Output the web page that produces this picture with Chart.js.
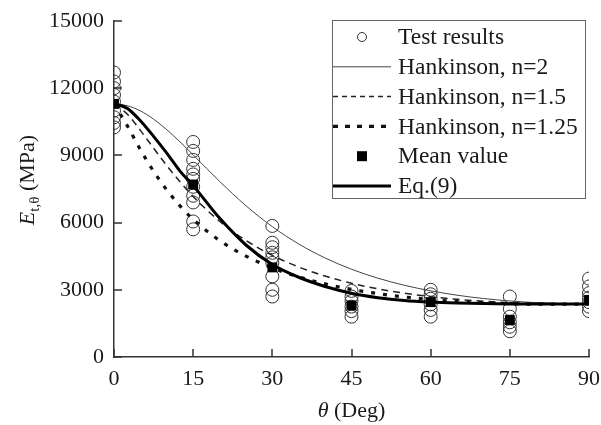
<!DOCTYPE html>
<html><head><meta charset="utf-8">
<style>html,body{margin:0;padding:0;background:#fff}#wrap{width:601px;height:425px;position:relative}</style>
<script src="https://cdn.jsdelivr.net/npm/chart.js@4/dist/chart.umd.min.js"></script>
</head><body><div id="wrap"><canvas id="c"></canvas></div>
<script>
// ---- data ----
const angleTicks = [0, 15, 30, 45, 60, 75, 90];
const yTicks = [0, 3000, 6000, 9000, 12000, 15000];
const testAngles = [0, 15, 30, 45, 60, 75, 90];
const testValues = [
  [12700, 12300, 12000, 11700, 11400, 11000, 10700, 10450, 10250],
  [9600, 9200, 8800, 8400, 8150, 7950, 7600, 7200, 6900, 6050, 5700],
  [5850, 5100, 4900, 4650, 4450, 4200, 3600, 3000, 2700],
  [2950, 2700, 2500, 2250, 2050, 1800],
  [3000, 2800, 2600, 2350, 2100, 1800],
  [2700, 2150, 1800, 1550, 1350, 1150],
  [3500, 3150, 2850, 2650, 2450, 2250, 2050]
];
const meanValues = [11300, 7700, 4000, 2300, 2450, 1650, 2550];
const curveAngles = [0, 2.5, 5, 7.5, 10, 12.5, 15, 20, 25, 30, 35, 40, 45, 50, 55, 60, 65, 70, 75, 80, 85, 90];
const hank2   = [11300, 11219, 10986, 10618, 10147, 9605, 9023, 7843, 6754, 5819, 5046, 4420, 3918, 3519, 3203, 2954, 2759, 2611, 2502, 2428, 2384, 2370];
const hank15  = [11300, 10845, 10116, 9323, 8546, 7822, 7165, 6060, 5201, 4535, 4018, 3613, 3295, 3044, 2847, 2693, 2575, 2487, 2426, 2388, 2371, 2370];
const hank125 = [11300, 10330, 9255, 8288, 7456, 6749, 6149, 5202, 4504, 3979, 3577, 3265, 3021, 2830, 2681, 2566, 2480, 2418, 2379, 2359, 2358, 2370];
const eq9     = [11300, 11100, 10550, 9850, 9100, 8300, 7650, 6200, 5000, 4130, 3560, 3150, 2850, 2650, 2520, 2450, 2410, 2385, 2370, 2365, 2365, 2365];
const seriesNames = ['Test results', 'Hankinson, n=2', 'Hankinson, n=1.5', 'Hankinson, n=1.25', 'Mean value', 'Eq.(9)'];

// ---- build ----
const testPoints = [];
testAngles.forEach((a, i) => testValues[i].forEach(v => testPoints.push({x: a, y: v})));
const meanPoints = testAngles.map((a, i) => ({x: a, y: meanValues[i]}));
const curve = arr => curveAngles.map((a, i) => ({x: a, y: arr[i]}));

const SERIF = '"Liberation Serif", "Times New Roman", serif';
const INK = '#1a1a1a';

const datasets = [
  {label: seriesNames[0], data: testPoints, showLine: false, pointStyle: 'circle', pointRadius: 6.5,
   pointBorderColor: '#333', pointBackgroundColor: 'rgba(0,0,0,0)', pointBorderWidth: 1, order: 6},
  {label: seriesNames[1], data: curve(hank2), showLine: true, pointRadius: 0, borderColor: '#444',
   borderWidth: 1, cubicInterpolationMode: 'monotone', order: 5},
  {label: seriesNames[2], data: curve(hank15), showLine: true, pointRadius: 0, borderColor: '#222',
   borderWidth: 1.5, borderDash: [7, 5], cubicInterpolationMode: 'monotone', order: 4},
  {label: seriesNames[3], data: curve(hank125), showLine: true, pointRadius: 0, borderColor: '#111',
   borderWidth: 3.2, borderDash: [4, 8], cubicInterpolationMode: 'monotone', order: 3},
  {label: seriesNames[4], data: meanPoints, showLine: false, pointStyle: 'rect', pointRadius: 7,
   pointBorderColor: '#000', pointBackgroundColor: '#000', pointBorderWidth: 0, order: 1},
  {label: seriesNames[5], data: curve(eq9), showLine: true, pointRadius: 0, borderColor: '#000',
   borderWidth: 3, cubicInterpolationMode: 'monotone', order: 2}
];

const decor = {
  id: 'decor',
  afterDraw(chart) {
    const ctx = chart.ctx, xs = chart.scales.x, ys = chart.scales.y, ca = chart.chartArea;
    ctx.save();
    // inward ticks
    ctx.strokeStyle = '#333'; ctx.lineWidth = 1.5;
    ctx.beginPath();
    angleTicks.forEach(t => { const px = Math.round(xs.getPixelForValue(t)); ctx.moveTo(px, ca.bottom); ctx.lineTo(px, ca.bottom - 8); });
    yTicks.forEach(t => { const py = Math.round(ys.getPixelForValue(t)); ctx.moveTo(ca.left, py); ctx.lineTo(ca.left + 8, py); });
    ctx.stroke();

    // x title
    ctx.fillStyle = INK; ctx.textBaseline = 'alphabetic';
    const cx = (ca.left + ca.right) / 2;
    ctx.font = 'italic 22px ' + SERIF;
    const w1 = ctx.measureText('\u03b8').width;
    ctx.font = '22px ' + SERIF;
    const w2 = ctx.measureText(' (Deg)').width;
    let x0 = cx - (w1 + w2) / 2;
    ctx.font = 'italic 22px ' + SERIF; ctx.textAlign = 'left';
    ctx.fillText('\u03b8', x0, 417);
    ctx.font = '22px ' + SERIF;
    ctx.fillText(' (Deg)', x0 + w1, 417);

    // y title (rotated)
    ctx.save();
    ctx.translate(34, 180);
    ctx.rotate(-Math.PI / 2);
    ctx.font = 'italic 22px ' + SERIF;
    const e1 = ctx.measureText('E').width;
    ctx.font = '15px ' + SERIF;
    const e2 = ctx.measureText('t,\u03b8').width;
    ctx.font = '22px ' + SERIF;
    const e3 = ctx.measureText(' (MPa)').width;
    let sx = -(e1 + e2 + e3) / 2;
    ctx.font = 'italic 22px ' + SERIF; ctx.fillText('E', sx, 0);
    ctx.font = '15px ' + SERIF; ctx.fillText('t,\u03b8', sx + e1, 5);
    ctx.font = '22px ' + SERIF; ctx.fillText(' (MPa)', sx + e1 + e2, 0);
    ctx.restore();

    // legend
    const L = 332, T = 20, R = 585, B = 198;
    ctx.fillStyle = '#fff'; ctx.fillRect(L, T, R - L, B - T);
    ctx.strokeStyle = '#666'; ctx.lineWidth = 1; ctx.setLineDash([]);
    ctx.strokeRect(L + 0.5, T + 0.5, R - L, B - T);
    const rowY = i => 37 + i * 29.8;
    chart.data.datasets.forEach((ds, i) => {
      const y = rowY(i);
      ctx.save();
      if (ds.showLine) {
        ctx.strokeStyle = ds.borderColor; ctx.lineWidth = ds.borderWidth;
        const dash = ds.borderDash ? (i === 2 ? [5, 4] : [5, 7]) : [];
        ctx.setLineDash(dash);
        ctx.beginPath(); ctx.moveTo(L + 1, y); ctx.lineTo(391, y); ctx.stroke();
      } else if (ds.pointStyle === 'circle') {
        ctx.strokeStyle = '#333'; ctx.lineWidth = 1;
        ctx.beginPath(); ctx.arc(362, y, 4.5, 0, Math.PI * 2); ctx.stroke();
      } else {
        ctx.fillStyle = '#000'; ctx.fillRect(357, y - 5, 10, 10);
      }
      ctx.restore();
      ctx.fillStyle = INK; ctx.font = '23.5px ' + SERIF; ctx.textAlign = 'left'; ctx.textBaseline = 'middle';
      ctx.fillText(ds.label, 398, y + 1);
    });
    ctx.restore();
  }
};

new Chart(document.getElementById('c'), {
  type: 'scatter',
  data: {datasets},
  options: {
    responsive: true, maintainAspectRatio: false, animation: false,
    layout: {padding: {top: 21, right: 12, left: 0, bottom: 0}},
    plugins: {legend: {display: false}, tooltip: {enabled: false}},
    scales: {
      x: {
        type: 'linear', min: 0, max: 90,
        afterBuildTicks: s => { s.ticks = angleTicks.map(v => ({value: v})); },
        afterFit: s => { s.height = 68; s.paddingLeft = 0; s.paddingRight = 0; },
        grid: {display: true, drawOnChartArea: false, drawTicks: false},
        border: {display: true, color: '#333', width: 1.5},
        ticks: {padding: 9, color: INK, font: {family: SERIF, size: 22}, maxRotation: 0}
      },
      y: {
        type: 'linear', min: 0, max: 15000,
        afterBuildTicks: s => { s.ticks = yTicks.map(v => ({value: v})); },
        afterFit: s => { s.width = 114; s.paddingTop = 0; s.paddingBottom = 0; },
        grid: {display: true, drawOnChartArea: false, drawTicks: false},
        border: {display: true, color: '#333', width: 1.5},
        ticks: {padding: 10, color: INK, font: {family: SERIF, size: 22}, callback: v => String(v)}
      }
    }
  },
  plugins: [decor]
});
</script>
</body></html>
